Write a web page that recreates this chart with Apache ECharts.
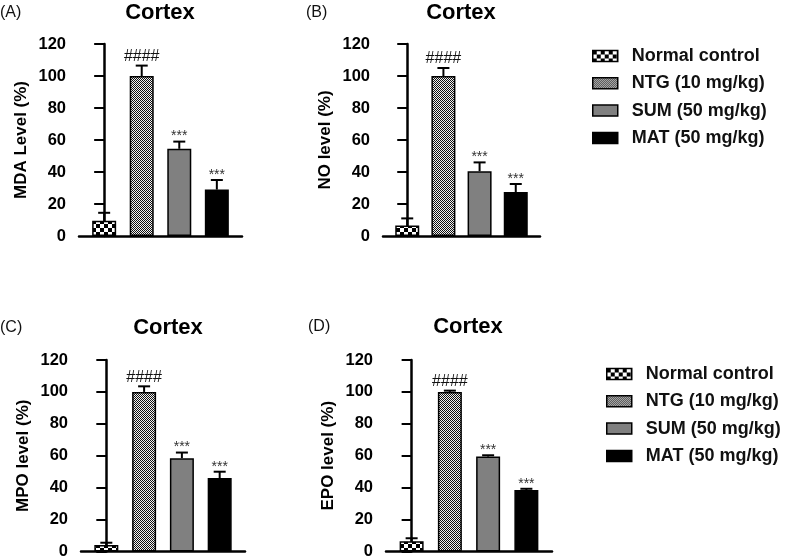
<!DOCTYPE html>
<html>
<head>
<meta charset="utf-8">
<script src="https://cdn.jsdelivr.net/npm/echarts@6/dist/echarts.min.js"></script>
<style>html,body{margin:0;padding:0;background:#fff}#c{width:800px;height:560px}</style>
</head>
<body>
<div id="c"></div>
<script>
// ---- data ----
const groups = ['Normal control', 'NTG (10 mg/kg)', 'SUM (50 mg/kg)', 'MAT (50 mg/kg)'];
const yTicks = [0, 20, 40, 60, 80, 100, 120];
const panelLetters = ['(A)', '(B)', '(C)', '(D)'];
const panelTitles = ['Cortex', 'Cortex', 'Cortex', 'Cortex'];
const yNames = ['MDA Level (%)', 'NO level (%)', 'MPO level (%)', 'EPO level (%)'];
const mdaMean = [9.5, 100, 54.5, 29];
const mdaErr  = [5, 6.5, 4.5, 6];
const noMean  = [6.5, 100, 40.5, 27.5];
const noErr   = [4.5, 5, 5.5, 5];
const mpoMean = [4, 100, 58.5, 46];
const mpoErr  = [1.5, 3.5, 3.5, 4];
const epoMean = [6.5, 100, 59.5, 38.5];
const epoErr  = [1.8, 0.8, 0.8, 0.8];
const sigMarks = ['', '####', '***', '***'];

// ---- patterns ----
function pattern(size, cell, c1, c2) {
  const cv = document.createElement('canvas');
  cv.width = size; cv.height = size;
  const ctx = cv.getContext('2d');
  for (let y = 0; y < size; y += cell) for (let x = 0; x < size; x += cell) {
    ctx.fillStyle = (((x / cell) + (y / cell)) % 2 === 0) ? c1 : c2;
    ctx.fillRect(x, y, cell, cell);
  }
  return { image: cv, repeat: 'repeat' };
}
const fills = [
  pattern(8, 4, '#000', '#fff'),
  pattern(4, 1, '#111', '#f2f2f2'),
  '#808080',
  '#000'
];

const FONT = 'Liberation Sans, Arial, Helvetica, sans-serif';
const grids = [
  { left: 79,  top: 44,  width: 163, height: 192 },
  { left: 383, top: 44,  width: 157, height: 192 },
  { left: 81,  top: 360, width: 164, height: 193 },
  { left: 386, top: 360, width: 166, height: 193 }
];
const means = [mdaMean, noMean, mpoMean, epoMean];
const errs = [mdaErr, noErr, mpoErr, epoErr];

const xAxes = grids.map((g, i) => ({
  gridIndex: i, type: 'value', min: -0.67, max: 3.67,
  axisLine: { onZero: false, lineStyle: { color: '#000', width: 2.5 } },
  axisTick: { show: false }, axisLabel: { show: false }, splitLine: { show: false }
}));
const yAxes = grids.map((g, i) => ({
  gridIndex: i, type: 'value', min: yTicks[0], max: yTicks[yTicks.length - 1], interval: yTicks[1] - yTicks[0],
  name: yNames[i], nameLocation: 'middle', nameGap: 49, nameRotate: 90,
  nameTextStyle: { fontFamily: FONT, fontWeight: 'bold', fontSize: 17, color: '#000' },
  axisLine: { show: true, lineStyle: { color: '#000', width: 2.5 } },
  axisTick: { show: true, length: 10, lineStyle: { color: '#000', width: 2 } },
  axisLabel: { margin: 13, fontFamily: FONT, fontWeight: 'bold', fontSize: 16.5, color: '#000' },
  splitLine: { show: false }
}));

const series = [];
grids.forEach((g, p) => {
  groups.forEach((name, k) => {
    series.push({
      type: 'bar', name: name, xAxisIndex: p, yAxisIndex: p,
      barWidth: 24, barGap: '-100%',
      itemStyle: { color: fills[k], borderColor: '#000', borderWidth: 1.5 },
      data: [[k, means[p][k]]]
    });
  });
  series.push({
    type: 'custom', name: 'err' + p, xAxisIndex: p, yAxisIndex: p, z: 10, silent: true,
    data: means[p].map((v, k) => [k, v, errs[p][k]]),
    renderItem: function (params, api) {
      const x = api.value(0), v = api.value(1), e = api.value(2);
      const b = api.coord([x, v]);
      const t = api.coord([x, v + e]);
      const ch = [
        { type: 'line', shape: { x1: b[0], y1: b[1], x2: t[0], y2: t[1] }, style: { stroke: '#000', lineWidth: 2 } },
        { type: 'line', shape: { x1: t[0] - 6, y1: t[1], x2: t[0] + 6, y2: t[1] }, style: { stroke: '#000', lineWidth: 2 } }
      ];
      const m = sigMarks[params.dataIndex];
      if (m) {
        const big = m.charAt(0) === '#';
        ch.push({ type: 'text', style: {
          text: m, x: t[0], y: t[1] - (big ? 1 : -2), align: 'center', verticalAlign: 'bottom',
          font: (big ? 'normal 16px ' : 'normal 14px ') + FONT, fill: big ? '#111' : '#333'
        } });
      }
      return { type: 'group', children: ch };
    }
  });
});

const titlePos = [[160, 13], [461, 13], [168, 328], [468, 327]];
const letterPos = [[0, 13], [306, 13], [0, 328], [308, 327]];
const graphics = [];
titlePos.forEach((p, i) => {
  graphics.push({ type: 'text', x: p[0], y: p[1], style: { text: panelTitles[i], align: 'center', verticalAlign: 'middle', font: 'bold 22px ' + FONT, fill: '#000' } });
  graphics.push({ type: 'text', x: letterPos[i][0], y: letterPos[i][1], style: { text: panelLetters[i], align: 'left', verticalAlign: 'middle', font: 'normal 16px ' + FONT, fill: '#111' } });
});

const legendCommon = {
  data: groups, orient: 'vertical', icon: 'rect', itemWidth: 25, itemHeight: 11, itemGap: 9.3,
  selectedMode: false, padding: 0,
  itemStyle: { borderColor: '#000', borderWidth: 1.5 },
  textStyle: { fontFamily: FONT, fontWeight: 'bold', fontSize: 18, lineHeight: 18, color: '#111', padding: [0, 0, 0, 9] }
};

const chart = echarts.init(document.getElementById('c'), null, { renderer: 'canvas' });
chart.setOption({
  animation: false,
  backgroundColor: '#fff',
  grid: grids,
  xAxis: xAxes,
  yAxis: yAxes,
  legend: [
    Object.assign({ left: 592, top: 47 }, legendCommon),
    Object.assign({ left: 606, top: 365 }, legendCommon)
  ],
  graphic: graphics,
  series: series
});
</script>
</body>
</html>
